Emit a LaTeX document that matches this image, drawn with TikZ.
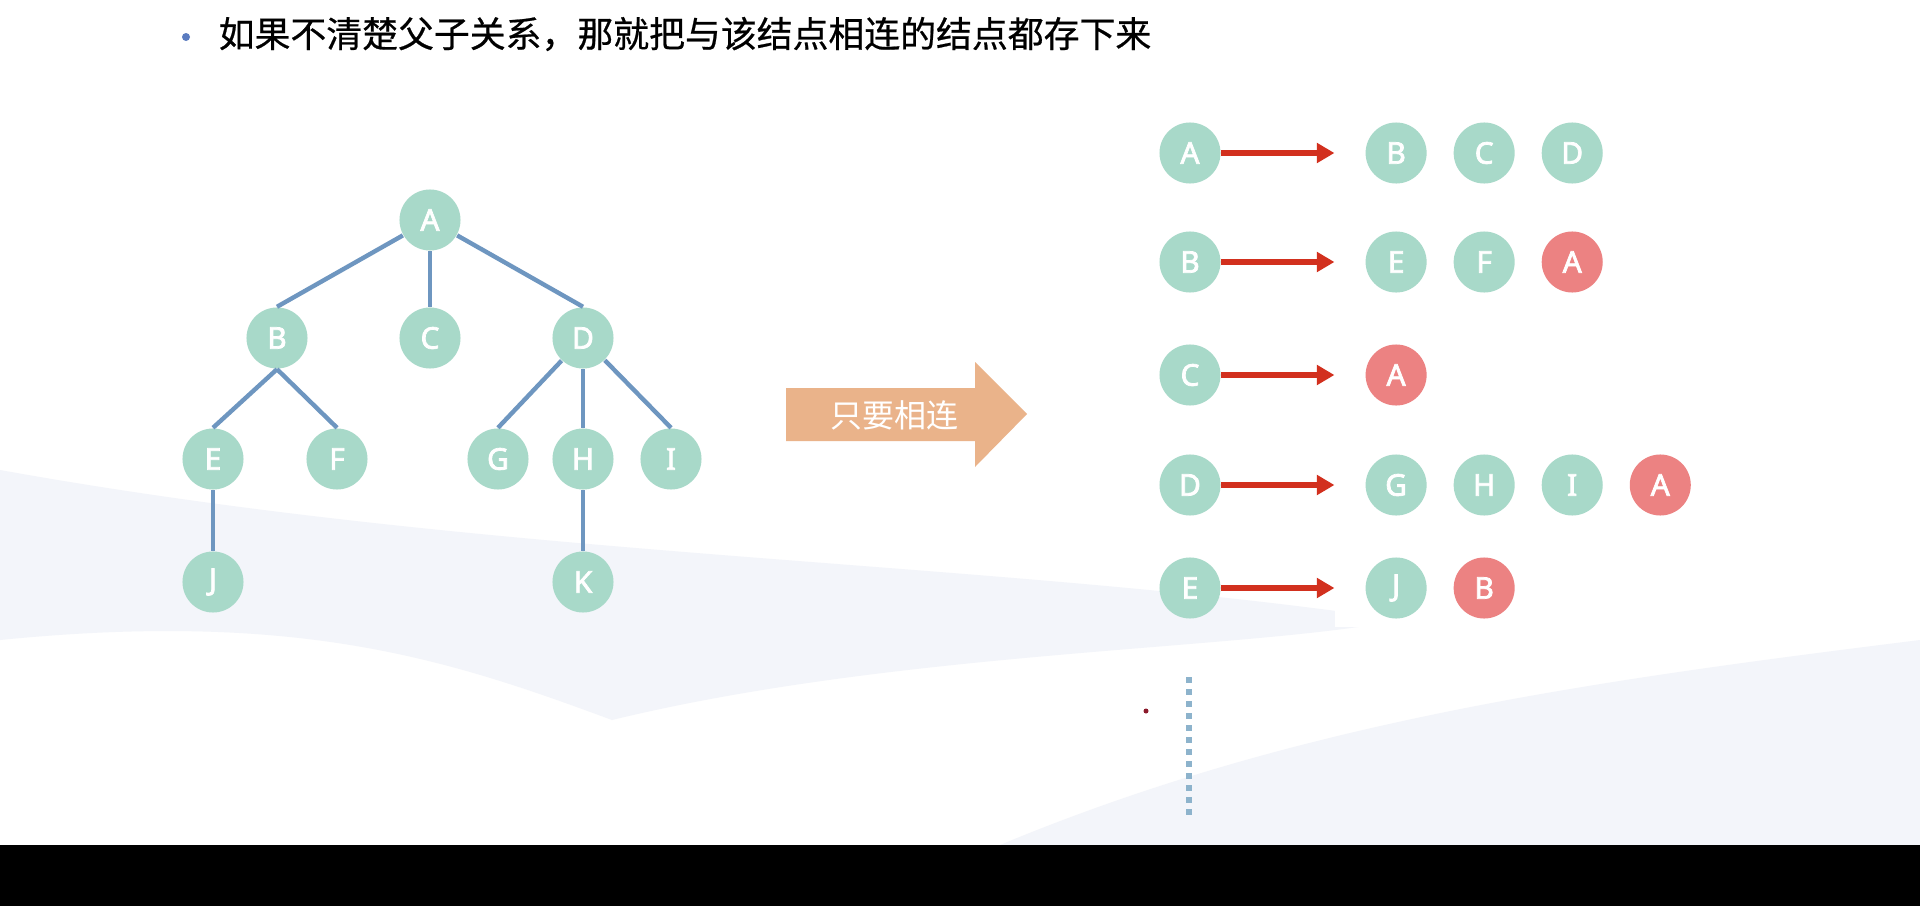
\documentclass[tikz,border=0pt]{standalone}
\usepackage{fontspec}
\newfontfamily\letterfont{Noto Sans}[AutoFakeBold=2.5]
\newfontfamily\cjkfont{Noto Sans CJK SC}[AutoFakeBold=0.6]
\usetikzlibrary{positioning, arrows.meta}

\definecolor{nodegreen}{HTML}{A8D9C9}
\definecolor{nodered}{HTML}{EC8282}
\definecolor{branchblue}{HTML}{6E96C0}
\definecolor{linkred}{HTML}{D2301E}
\definecolor{bigarrow}{HTML}{EAB38A}
\definecolor{dotblue}{HTML}{8DB3CC}
\definecolor{bulletblue}{HTML}{5B7CC0}
\definecolor{bgpale}{HTML}{F3F5FA}
\definecolor{penred}{HTML}{8B1A2B}

\tikzset{
  vtx/.style={circle, fill=nodegreen, minimum size=0.61cm, inner sep=0pt,
    text=white, font=\letterfont\bfseries\fontsize{8.5}{8.5}\selectfont},
  hit/.style={vtx, fill=nodered},
  branch/.style={draw=branchblue, line width=1.25pt},
  link/.style={draw=linkred, line width=1.5pt,
    -{Triangle[length=5pt, width=5.5pt]}, shorten >=0.305cm},
}

\begin{document}
\begin{tikzpicture}[x=0.01cm, y=-0.01cm, node distance=0.88cm, on grid]
  \useasboundingbox (0,0) rectangle (1920,906);
  % background
  \fill[white] (0,0) rectangle (1920,906);
  \fill[bgpale] (0,470) .. controls (500,560) and (1000,560) .. (1400,620)
    .. controls (1250,650) and (900,650) .. (612,720)
    .. controls (450,660) and (300,610) .. (0,640) -- cycle;
  \fill[bgpale] (1000,845) .. controls (1300,720) and (1600,680) .. (1920,640)
    -- (1920,845) -- cycle;
  \fill[white] (1335,547) rectangle (1726,627);
  \fill[black] (0,845) rectangle (1920,906);

  % heading
  \fill[bulletblue] (186,37) circle (4);
  \node[anchor=west, inner sep=0pt, font=\cjkfont\bfseries\fontsize{10.2}{10.2}\selectfont]
    (title) at (218,34) {如果不清楚父子关系，那就把与该结点相连的结点都存下来};

  % tree
  \node[vtx] (A) at (430,220) {A};
  \node[vtx] (B) at (277,338) {B};
  \node[vtx] (C) at (430,338) {C};
  \node[vtx] (D) at (583,338) {D};
  \node[vtx] (E) at (213,459) {E};
  \node[vtx] (F) at (337,459) {F};
  \node[vtx] (G) at (498,459) {G};
  \node[vtx] (H) at (583,459) {H};
  \node[vtx] (I) at (671,459) {I};
  \node[vtx] (J) at (213,582) {J};
  \node[vtx] (K) at (583,582) {K};

  \draw[branch] (A) -- (B.north);
  \draw[branch] (A) -- (C);
  \draw[branch] (A) -- (D.north);
  \draw[branch] (B.south) -- (E.north);
  \draw[branch] (B.south) -- (F.north);
  \draw[branch] (D) -- (G.north);
  \draw[branch] (D) -- (H);
  \draw[branch] (D) -- (I.north);
  \draw[branch] (E) -- (J);
  \draw[branch] (H) -- (K);

  % big arrow
  \fill[bigarrow] (786,388) -- (975,388) -- (975,362) -- (1027,414)
    -- (975,467) -- (975,441) -- (786,441) -- cycle;
  \node[text=white, font=\cjkfont\fontsize{9.1}{9.1}\selectfont] (tag) at (894,415) {只要相连};

  % adjacency lists
  \node[vtx] (rA) at (1190,153) {A};
  \node[vtx, right=2.06cm of rA] (rA1) {B};
  \node[vtx, right=of rA1] (rA2) {C};
  \node[vtx, right=of rA2] (rA3) {D};

  \node[vtx] (rB) at (1190,262) {B};
  \node[vtx, right=2.06cm of rB] (rB1) {E};
  \node[vtx, right=of rB1] (rB2) {F};
  \node[hit, right=of rB2] (rB3) {A};

  \node[vtx] (rC) at (1190,375) {C};
  \node[hit, right=2.06cm of rC] (rC1) {A};

  \node[vtx] (rD) at (1190,485) {D};
  \node[vtx, right=2.06cm of rD] (rD1) {G};
  \node[vtx, right=of rD1] (rD2) {H};
  \node[vtx, right=of rD2] (rD3) {I};
  \node[hit, right=of rD3] (rD4) {A};

  \node[vtx] (rE) at (1190,588) {E};
  \node[vtx, right=2.06cm of rE] (rE1) {J};
  \node[hit, right=of rE1] (rE2) {B};

  \draw[link] (rA) -- (rA1);
  \draw[link] (rB) -- (rB1);
  \draw[link] (rC) -- (rC1);
  \draw[link] (rD) -- (rD1);
  \draw[link] (rE) -- (rE1);

  % dotted mark and pointer
  \draw[dotblue, line width=0.06cm, dash pattern=on 0.06cm off 0.06cm]
    (1189,677) -- (1189,818);
  \fill[penred] (1146,711) circle (2.5);
\end{tikzpicture}
\end{document}
